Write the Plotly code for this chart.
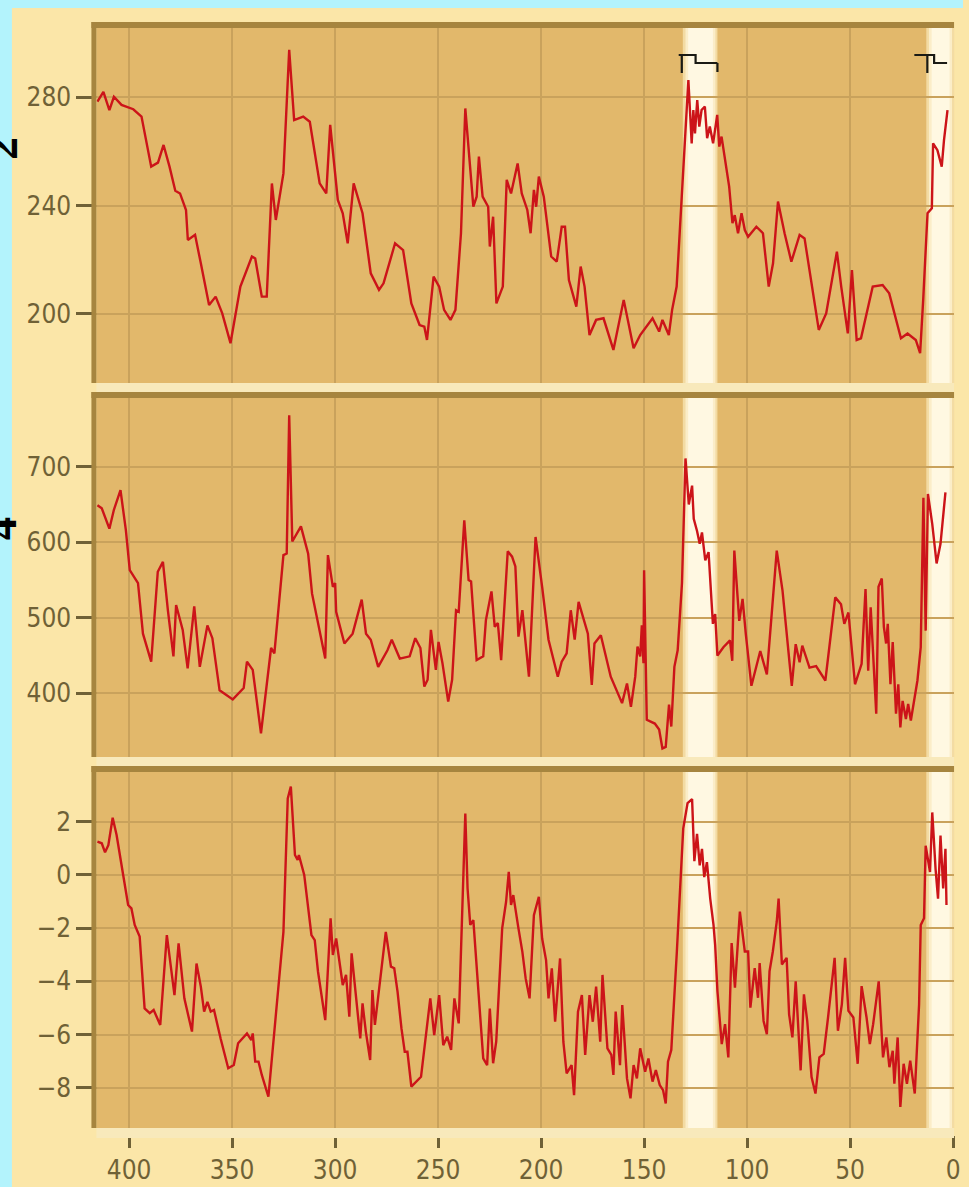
import plotly.graph_objects as go

# ---------------- data ----------------
co2_age = [415.4, 412.5, 409.6, 407.4, 403.7, 398.0, 394.0, 391.7, 389.3, 386.0, 383.3, 380.4, 377.6, 375.3,
           372.4, 371.5, 368.0, 365.2, 361.2, 358.0, 354.8, 350.8, 346.0, 340.4, 338.8, 335.6, 333.2, 330.7,
           328.8, 325.1, 322.3, 319.9, 315.5, 312.3, 307.5, 304.3, 302.4, 298.7, 296.3, 293.9, 291.0, 286.7,
           282.7, 278.7, 276.5, 270.9, 267.0, 263.0, 259.0, 256.7, 255.4, 252.2, 249.5, 247.1, 244.0, 241.6,
           238.9, 236.8, 232.9, 231.3, 230.2, 228.4, 225.7, 224.9, 223.3, 221.7, 218.6, 216.7, 214.6, 211.4,
           209.4, 206.7, 205.1, 203.5, 202.4, 201.1, 198.7, 195.1, 192.4, 190.0, 188.4, 186.5, 182.9, 180.8,
           178.9, 176.5, 173.3, 169.7, 164.9, 159.9, 155.1, 151.9, 145.9, 142.7, 141.1, 138.0, 136.4, 134.2,
           128.5, 126.9, 126.1, 125.3, 124.2, 123.2, 122.1, 120.5, 119.4, 118.1, 116.5, 114.5, 113.5, 112.4,
           110.8, 108.7, 107.1, 106.0, 104.4, 102.7, 101.1, 99.5, 95.5, 92.3, 89.5, 87.4, 85.0, 81.8, 78.5,
           74.5, 72.1, 65.2, 61.6, 56.4, 54.3, 51.1, 49.1, 46.8, 44.7, 39.0, 34.2, 31.0, 25.3, 22.1, 18.1,
           16.0, 14.5, 12.4, 10.3, 9.7, 7.6, 5.5, 4.4, 2.7]
co2_ppmv = [278.4, 282.0, 275.3, 280.2, 277.2, 275.6, 272.9, 264.2, 254.4, 255.9, 262.4, 254.4, 245.5, 244.5,
            238.4, 227.3, 229.2, 218.7, 203.3, 206.4, 200.2, 189.2, 210.1, 221.2, 220.5, 206.4, 206.4, 248.2,
            234.7, 251.9, 297.5, 271.6, 272.9, 271.0, 248.2, 244.5, 269.8, 242.1, 237.2, 226.1, 248.2, 237.2,
            215.0, 208.9, 211.3, 226.1, 223.6, 203.9, 195.9, 195.3, 190.4, 213.8, 210.1, 201.5, 197.8, 201.5,
            229.8, 275.9, 239.6, 243.3, 258.1, 243.3, 239.6, 224.9, 235.9, 203.9, 210.1, 249.5, 244.5, 255.6,
            244.5, 238.4, 229.8, 245.8, 239.6, 250.7, 243.3, 221.2, 219.3, 232.2, 232.2, 212.5, 202.7, 217.5,
            210.1, 192.2, 197.8, 198.4, 186.7, 205.2, 187.3, 192.2, 198.4, 193.5, 197.8, 192.2, 201.5, 210.1,
            286.4, 263.0, 275.3, 266.7, 279.0, 269.2, 275.3, 276.6, 264.9, 269.2, 263.0, 273.5, 261.8, 265.5,
            258.1, 247.0, 233.5, 236.5, 229.8, 237.2, 231.0, 228.5, 232.2, 229.8, 210.1, 218.7, 241.5, 229.8,
            219.3, 229.2, 227.9, 194.1, 200.2, 223.0, 210.1, 192.8, 216.2, 190.4, 191.0, 210.1, 210.7, 207.6,
            191.0, 192.8, 190.4, 185.5, 205.2, 237.2, 239.0, 263.0, 260.5, 254.4, 264.2, 275.3]

ch4_age = [415.4, 413.3, 409.6, 407.4, 404.2, 401.6, 399.7, 395.7, 393.3, 389.3, 386.1, 383.6, 381.2, 378.5,
           377.2, 374.0, 371.6, 368.4, 365.7, 362.0, 359.6, 356.1, 349.7, 344.4, 342.8, 340.0, 336.0, 331.1,
           329.5, 325.1, 323.5, 322.3, 320.8, 316.6, 313.1, 311.2, 304.8, 303.5, 301.1, 300.0, 299.5, 295.5,
           291.5, 287.1, 285.0, 282.7, 279.1, 274.6, 272.5, 268.6, 263.8, 261.1, 258.6, 256.7, 255.1, 253.5,
           251.1, 249.8, 247.9, 245.1, 243.2, 241.3, 240.0, 237.3, 235.2, 234.0, 231.3, 228.1, 226.8, 224.1,
           222.5, 221.0, 219.4, 216.2, 214.1, 212.5, 211.0, 209.1, 205.9, 202.7, 199.5, 196.4, 191.9, 190.0,
           187.6, 185.6, 183.7, 181.8, 177.3, 175.4, 174.1, 171.0, 166.2, 160.7, 158.3, 156.4, 154.3, 153.2,
           151.9, 151.1, 150.3, 150.0, 148.7, 144.8, 142.7, 141.1, 139.5, 137.9, 136.8, 135.3, 133.7, 131.6,
           129.9, 128.3, 126.7, 125.9, 124.3, 123.0, 121.9, 120.3, 118.7, 117.9, 116.6, 115.5, 114.4, 111.5,
           108.3, 107.2, 106.2, 103.8, 102.2, 100.6, 97.9, 93.6, 90.4, 85.6, 82.8, 78.3, 76.4, 74.5, 73.2,
           69.7, 66.5, 62.0, 57.2, 54.4, 52.8, 50.8, 47.6, 44.4, 42.5, 41.2, 40.0, 37.3, 36.2, 34.6, 33.6,
           32.5, 31.7, 30.4, 29.3, 27.7, 26.6, 25.6, 24.5, 22.9, 21.8, 20.5, 17.3, 15.7, 14.4, 13.3, 12.2,
           10.1, 8.0, 6.1, 3.7]
ch4_ppbv = [649, 645, 618, 643, 669, 616, 563, 546, 479, 442, 561, 574, 510, 449,
            517, 484, 433, 515, 435, 490, 473, 404, 392, 407, 442, 431, 347, 460,
            453, 583, 585, 768, 601, 621, 585, 532, 446, 583, 541, 546, 508, 466,
            479, 524, 479, 471, 435, 457, 471, 446, 449, 473, 460, 409, 418, 484,
            431, 468, 440, 389, 418, 510, 508, 629, 550, 548, 444, 449, 497, 535,
            488, 493, 444, 588, 581, 568, 475, 510, 422, 607, 541, 471, 422, 442,
            453, 510, 471, 521, 479, 411, 466, 477, 422, 387, 413, 382, 422, 462,
            449, 490, 440, 563, 365, 360, 352, 327, 329, 385, 356, 435, 457, 546,
            711, 650, 675, 631, 615, 598, 613, 576, 587, 553, 492, 505, 450, 461,
            470, 443, 589, 496, 525, 478, 410, 456, 425, 589, 536, 410, 465, 441, 463,
            434, 436, 417, 527, 518, 492, 507, 412, 439, 538, 430, 514, 373, 541, 552, 488,
            466, 492, 412, 468, 373, 412, 355, 390, 366, 386, 364, 417, 461, 659, 483, 664,
            624, 572, 598, 666]

temp_age = [415.4, 413.3, 411.7, 410.1, 408.0, 406.1, 402.9, 400.5, 398.9, 397.3, 394.9, 392.5, 390.0, 388.1,
            384.9, 381.7, 378.0, 376.0, 373.2, 369.5, 367.3, 365.2, 363.6, 362.0, 360.4, 358.8, 355.6, 351.9,
            349.2, 347.1, 342.8, 340.7, 340.0, 338.8, 337.2, 335.6, 332.4, 326.7, 325.1, 323.0, 321.5, 319.5,
            318.2, 317.6, 315.0, 311.5, 309.9, 308.3, 304.8, 302.2, 301.1, 299.5, 296.3, 294.7, 293.1, 292.0,
            290.7, 287.8, 286.7, 285.1, 283.0, 281.9, 280.7, 279.1, 277.5, 275.4, 272.9, 271.3, 269.7, 267.8,
            266.2, 264.9, 263.0, 258.3, 253.8, 251.9, 249.5, 247.5, 245.6, 243.7, 242.1, 240.0, 236.8, 235.7,
            234.4, 232.9, 228.1, 226.2, 224.9, 223.3, 221.8, 218.9, 217.0, 215.7, 214.6, 213.5, 211.0, 209.1,
            207.5, 205.6, 203.5, 201.1, 199.5, 197.6, 196.4, 194.8, 193.2, 191.9, 190.8, 189.2, 187.6, 185.2,
            184.0, 182.1, 180.2, 178.6, 176.5, 174.9, 173.3, 171.3, 170.2, 167.8, 165.9, 164.9, 163.8, 161.7,
            160.6, 158.3, 156.6, 155.1, 153.5, 151.9, 149.5, 147.9, 145.9, 144.3, 142.4, 140.8, 139.5, 138.4,
            136.8, 134.1, 131.0, 128.9, 126.7, 125.6, 124.3, 123.0, 121.9, 120.8, 119.5, 117.9, 116.3, 115.5,
            114.4, 112.3, 110.7, 109.1, 107.5, 105.9, 103.5, 101.1, 99.5, 98.4, 96.3, 94.7, 93.9, 92.0, 90.4,
            89.1, 87.5, 85.6, 84.7, 83.1, 80.8, 79.6, 78.0, 76.4, 74.0, 72.4, 70.8, 68.7, 66.8, 64.9, 62.8,
            60.7, 58.8, 57.5, 55.9, 54.0, 52.4, 50.8, 48.4, 46.3, 44.4, 42.0, 40.4, 38.8, 36.1, 34.0, 32.4,
            30.9, 29.3, 28.5, 26.9, 25.6, 24.0, 22.4, 20.8, 18.6, 16.5, 15.7, 14.1, 13.3, 11.2, 10.1, 8.5,
            7.3, 6.1, 4.8, 3.7, 3.2]
temp_anom = [1.25, 1.19, 0.85, 1.12, 2.15, 1.50, 0.00, -1.13, -1.26, -1.88, -2.32, -5.02, -5.20, -5.08,
             -5.64, -2.26, -4.52, -2.57, -4.64, -5.89, -3.33, -4.20, -5.14, -4.77, -5.14, -5.08, -6.15, -7.27,
             -7.15, -6.33, -5.96, -6.21, -5.96, -7.02, -7.02, -7.52, -8.34, -3.26, -2.14, 2.88, 3.32, 0.75,
             0.56, 0.75, 0.00, -2.26, -2.45, -3.64, -5.46, -1.63, -3.01, -2.39, -4.14, -3.76, -5.33, -2.95,
             -3.89, -6.15, -4.83, -5.89, -6.96, -4.33, -5.64, -4.52, -3.51, -2.14, -3.45, -3.51, -4.39, -5.77,
             -6.65, -6.65, -7.96, -7.59, -4.64, -6.02, -4.52, -6.40, -6.08, -6.58, -4.64, -5.58, 2.31, -0.51,
             -1.88, -1.70, -6.90, -7.15, -5.02, -7.08, -6.27, -2.01, -1.01, 0.12, -1.13, -0.76, -2.01, -2.89,
             -3.89, -4.64, -1.51, -0.82, -2.39, -3.20, -4.64, -3.51, -5.52, -4.39, -3.14, -6.27, -7.46, -7.15,
             -8.28, -5.14, -4.52, -6.77, -4.52, -5.52, -4.20, -6.27, -3.76, -6.52, -6.77, -7.52, -5.14, -7.15,
             -4.89, -7.65, -8.40, -7.15, -7.65, -6.52, -7.40, -6.90, -7.77, -7.34, -7.90, -8.09, -8.59, -7.02,
             -6.58, -2.89, 1.74, 2.70, 2.85, 0.52, 1.54, 0.36, 0.98, -0.08, 0.48, -0.89, -1.88, -2.63,
             -4.37, -6.36, -5.61, -6.86, -2.56, -4.24, -1.38, -2.88, -2.88, -4.99, -3.50, -4.62, -3.31, -5.49, -5.99,
             -3.62, -2.88, -1.76, -0.89, -3.37, -3.12, -5.24, -6.11, -4.00, -7.35, -4.49, -5.49, -7.60, -8.22, -6.86, -6.73,
             -5.36, -4.00, -3.12, -5.86, -4.87, -3.12, -5.11, -5.36, -7.10, -4.18, -5.36, -6.36, -5.61, -4.00, -6.86, -6.11,
             -7.23, -6.61, -7.85, -6.11, -8.72, -7.10, -7.85, -6.98, -8.22, -4.87, -1.88, -1.63, 1.10, 0.11, 2.35, 0.23,
             -0.89, 1.48, -0.51, 0.98, -1.13]

x_ticks = [400, 350, 300, 250, 200, 150, 100, 50, 0]
co2_ticks = [200, 240, 280]
ch4_ticks = [400, 500, 600, 700]
temp_ticks = [2, 0, -2, -4, -6, -8]

# interglacial bands (thousand years ago)
band_start = [131.2, 13.0]
band_end = [114.4, -0.5]
# interglacial brackets at the top
bracket_left = [133.2, 18.8]
bracket_tick = [131.7, 12.5]
bracket_step = [125.0, 9.2]
bracket_end = [114.4, 2.9]
bracket_has_end_tick = [True, False]

# cut-off side titles (only the subscripts show)
side_glyphs = ["2", "4"]

# ---------------- styling / geometry ----------------
W, H = 969, 1187
CYAN = "#b3f3fc"
OUTER = "#fbe6a8"
STRIP = "#f8e9bb"
TAN = "#e2b86b"
FRAME = "#a6853f"
GRID = "#c9a25c"
INK = "#6f6136"
RED = "#cc1419"
FONT = "Liberation Sans Narrow, DejaVu Sans Condensed, Liberation Sans, sans-serif"

LEFT, RIGHT = 97, 960
panels = [(28, 383), (398, 757), (772, 1128)]
yranges = [[174.5, 305.6], [315.7, 791.0], [-9.515, 3.87]]
xrange_ = [415.9, -0.48]


def fx(p):
    return p / W


def fy(p):
    return 1 - p / H


fig = go.Figure()
series = [(co2_age, co2_ppmv), (ch4_age, ch4_ppbv), (temp_age, temp_anom)]
for i, (xa, ya) in enumerate(series):
    fig.add_trace(go.Scatter(x=xa, y=ya, mode="lines",
                             line=dict(color=RED, width=2.4),
                             xaxis="x" if i == 0 else f"x{i+1}",
                             yaxis="y" if i == 0 else f"y{i+1}",
                             hoverinfo="skip", showlegend=False))

layout = dict(width=W, height=H, margin=dict(l=0, r=0, t=0, b=0, pad=0),
              paper_bgcolor=OUTER, plot_bgcolor=TAN, showlegend=False)

tickvals_y = [co2_ticks, ch4_ticks, temp_ticks]
for i, (top, bot) in enumerate(panels):
    xn = "xaxis" if i == 0 else f"xaxis{i+1}"
    yn = "yaxis" if i == 0 else f"yaxis{i+1}"
    ya_id = "y" if i == 0 else f"y{i+1}"
    xa_id = "x" if i == 0 else f"x{i+1}"
    xax = dict(domain=[fx(LEFT), fx(RIGHT)], range=xrange_, tickvals=x_ticks,
               showgrid=True, gridcolor=GRID, gridwidth=1.5, zeroline=False,
               showline=False, fixedrange=True)
    if i < 2:
        xax.update(anchor=ya_id, showticklabels=False, ticks="")
    else:
        xax.update(anchor="free", position=fy(1135), ticks="outside", ticklen=12,
                   tickwidth=3, tickcolor=INK,
                   tickfont=dict(family=FONT, size=26, color=INK))
    layout[xn] = xax
    layout[yn] = dict(domain=[fy(bot), fy(top)], range=yranges[i], anchor=xa_id,
                      tickvals=tickvals_y[i], ticks="outside", ticklen=19, tickwidth=3,
                      tickcolor=INK, tickfont=dict(family=FONT, size=26, color=INK),
                      showgrid=True, gridcolor=GRID, gridwidth=1.5, zeroline=False,
                      showline=False, fixedrange=True)

fig.update_layout(**layout)

shapes = []
# cyan border strips
shapes.append(dict(type="rect", xref="paper", yref="paper", x0=0, x1=fx(12), y0=0, y1=1,
                   fillcolor=CYAN, line=dict(width=0), layer="below"))
shapes.append(dict(type="rect", xref="paper", yref="paper", x0=0, x1=1, y0=fy(8), y1=1,
                   fillcolor=CYAN, line=dict(width=0), layer="below"))

# interglacial bands
for i in range(3):
    xr = "x" if i == 0 else f"x{i+1}"
    yr = "y domain" if i == 0 else f"y{i+1} domain"
    for s, e in zip(band_start, band_end):
        shapes.append(dict(type="rect", xref=xr, yref=yr, x0=s, x1=e, y0=0, y1=1,
                           fillcolor="#f3dba3", line=dict(width=0), layer="below"))
        shapes.append(dict(type="rect", xref=xr, yref=yr, x0=s - 1.3, x1=e + 1.0, y0=0, y1=1,
                           fillcolor="#fbedc8", line=dict(width=0), layer="below"))
        shapes.append(dict(type="rect", xref=xr, yref=yr, x0=s - 2.6, x1=e + 2.2, y0=0, y1=1,
                           fillcolor="#fff8e2", line=dict(width=0), layer="below"))

# panel frames
for top, bot in panels:
    shapes.append(dict(type="rect", xref="paper", yref="paper", x0=fx(LEFT), x1=fx(RIGHT),
                       y0=fy(bot + 10), y1=fy(bot), fillcolor=STRIP, line=dict(width=0), layer="above"))
    shapes.append(dict(type="rect", xref="paper", yref="paper", x0=fx(92), x1=fx(RIGHT),
                       y0=fy(top), y1=fy(top - 6), fillcolor=FRAME, line=dict(width=0), layer="above"))
    shapes.append(dict(type="rect", xref="paper", yref="paper", x0=fx(92), x1=fx(LEFT),
                       y0=fy(bot), y1=fy(top - 6), fillcolor=FRAME, line=dict(width=0), layer="above"))

# brackets
for l, t, s, e, has in zip(bracket_left, bracket_tick, bracket_step, bracket_end, bracket_has_end_tick):
    y_hi, y_mid, y_lo, y_end = fy(55), fy(63), fy(73), fy(72)
    path = f"M {l},{y_hi} L {s},{y_hi} L {s},{y_mid} L {e},{y_mid}"
    path += f" M {t},{y_hi} L {t},{y_lo}"
    if has:
        path += f" M {e},{y_mid} L {e},{y_end}"
    shapes.append(dict(type="path", xref="x", yref="paper", path=path,
                       line=dict(color="#1a1a14", width=2.2), layer="above"))

fig.update_layout(shapes=shapes)

# cut-off side titles (the reference shows them clipped at its left edge)
for g, ypx in zip(side_glyphs, [148, 528]):
    fig.add_annotation(text=g, xref="paper", yref="paper", x=fx(1), y=fy(ypx),
                       xanchor="center", yanchor="middle", textangle=-90, showarrow=False,
                       font=dict(family="Liberation Serif, DejaVu Serif, serif", size=46, color="black",
                                 weight="bold"))

fig.write_html("out.html",
               config={"displayModeBar": False},
               post_script="document.body.style.margin='0';document.body.style.padding='0';"
                           "document.body.style.background='#b3f3fc';"
                           "document.documentElement.style.overflow='hidden';")
